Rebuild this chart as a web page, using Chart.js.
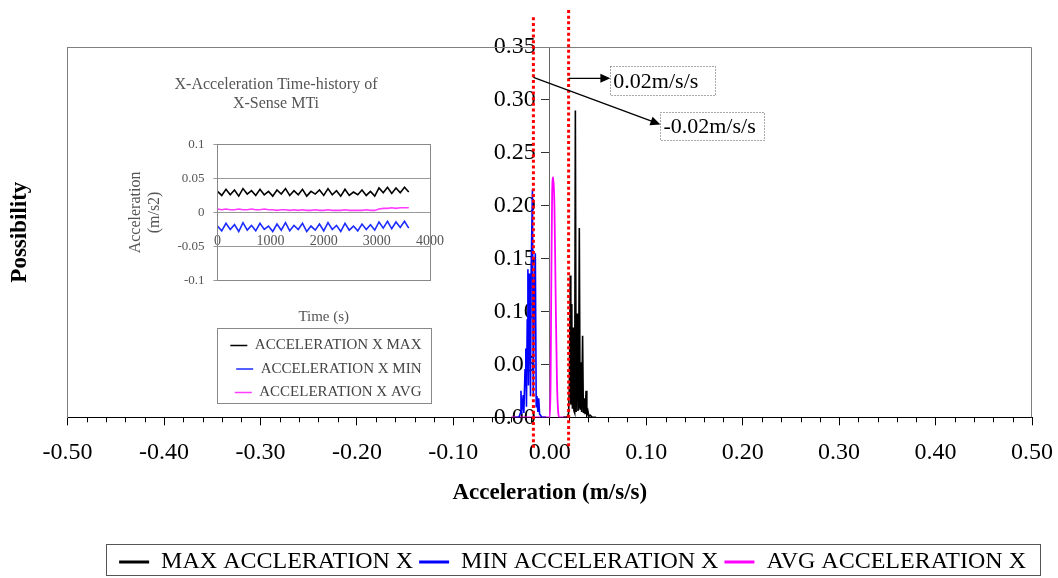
<!DOCTYPE html>
<html lang="en">
<head>
<meta charset="UTF-8">
<title>Acceleration possibility</title>
<script src="https://cdn.jsdelivr.net/npm/chart.js"></script>
<style>
  * { box-sizing: border-box; }
  body { margin:0; background:#fff; overflow:hidden; }
  #wrap { position:relative; width:1058px; height:578px; }
  #main { position:absolute; left:0; top:0; }
  #inset { position:absolute; left:122px; top:62px; filter:blur(0.5px); }
</style>
</head>
<body>
<div id="wrap">
  <canvas id="main" width="1058" height="578"></canvas>
  <canvas id="inset" width="322" height="350"></canvas>
</div>
<script>
const serif = "'Liberation Serif', 'Times New Roman', serif";

// distribution of the three acceleration series (x: m/s/s, y: possibility)
const maxAcc  = [0.014, 0.018, 0.0195, 0.0203, 0.0212, 0.0218, 0.0228, 0.0234, 0.0243, 0.0250, 0.0258, 0.0265, 0.0273, 0.0283, 0.0292, 0.0298, 0.0306, 0.0314, 0.0322, 0.0330, 0.0340, 0.0348, 0.0358, 0.0366, 0.0376, 0.0384, 0.0395, 0.0405, 0.0420, 0.0440, 0.0480];
const maxProb = [0, 0, 0.004, 0.03, 0.134, 0.012, 0.107, 0.008, 0.085, 0.006, 0.004, 0.290, 0.005, 0.098, 0.006, 0.010, 0.179, 0.008, 0.052, 0.005, 0.077, 0.004, 0.018, 0.003, 0.025, 0.002, 0.006, 0.001, 0.002, 0, 0];

const minAcc  = [-0.036, -0.032, -0.0305, -0.0299, -0.0293, -0.0284, -0.0276, -0.0269, -0.0257, -0.0249, -0.0242, -0.0234, -0.0227, -0.0221, -0.0214, -0.0207, -0.0200, -0.0193, -0.0180, -0.0171, -0.0161, -0.0150, -0.0141, -0.0133, -0.0124, -0.0115, -0.0106, -0.0096, -0.0082, -0.0040];
const minProb = [0, 0, 0.004, 0.025, 0.003, 0.012, 0.021, 0.004, 0.045, 0.065, 0.010, 0.092, 0.140, 0.030, 0.136, 0.110, 0.020, 0.140, 0.215, 0.020, 0.120, 0.155, 0.010, 0.020, 0.005, 0.018, 0.003, 0.002, 0, 0];

const avgAcc  = [-0.040, -0.010, 0.0000, 0.0008, 0.0015, 0.0024, 0.0035, 0.0048, 0.0060, 0.0074, 0.0088, 0.0099, 0.0190];
const avgProb = [0, 0, 0, 0.03, 0.12, 0.21, 0.227, 0.20, 0.12, 0.035, 0.004, 0, 0];

// dotted limit lines and their labels
const limitLines = [-0.017, 0.0195];
const notes = [
  { text: '0.02m/s/s',  fromX: 0.0195, fromY: 0.3204, box: [0.0628, 0.3318, 0.1718, 0.3043], toY: 0.3204 },
  { text: '-0.02m/s/s', fromX: -0.017, fromY: 0.3213, box: [0.1147, 0.2882, 0.2226, 0.2616], toY: 0.2768 }
];

// inset: time history (s) of the same sensor
const insetTime = [0, 80, 160, 240, 320, 400, 480, 560, 640, 720, 800, 880, 960, 1040, 1120, 1200, 1280, 1360, 1440, 1520, 1600, 1680, 1760, 1840, 1920, 2000, 2080, 2160, 2240, 2320, 2400, 2480, 2560, 2640, 2720, 2800, 2880, 2960, 3040, 3120, 3200, 3280, 3360, 3440, 3520, 3600];
const insetMax = [0.031, 0.025, 0.034, 0.026, 0.033, 0.024, 0.035, 0.027, 0.032, 0.025, 0.034, 0.026, 0.031, 0.024, 0.033, 0.027, 0.035, 0.025, 0.032, 0.026, 0.034, 0.024, 0.031, 0.027, 0.033, 0.025, 0.035, 0.026, 0.032, 0.024, 0.034, 0.025, 0.030, 0.026, 0.033, 0.025, 0.031, 0.024, 0.036, 0.029, 0.037, 0.028, 0.036, 0.029, 0.037, 0.030];
const insetMin = [-0.020, -0.027, -0.016, -0.025, -0.018, -0.028, -0.015, -0.026, -0.019, -0.027, -0.016, -0.025, -0.020, -0.028, -0.017, -0.026, -0.015, -0.027, -0.019, -0.025, -0.016, -0.028, -0.020, -0.026, -0.017, -0.027, -0.015, -0.025, -0.019, -0.028, -0.016, -0.026, -0.020, -0.027, -0.017, -0.025, -0.018, -0.026, -0.014, -0.023, -0.013, -0.024, -0.014, -0.022, -0.013, -0.023];
const insetAvg = [0.005, 0.004, 0.005, 0.004, 0.004, 0.005, 0.004, 0.004, 0.005, 0.004, 0.004, 0.005, 0.004, 0.004, 0.003, 0.004, 0.004, 0.003, 0.004, 0.003, 0.004, 0.003, 0.003, 0.004, 0.003, 0.003, 0.004, 0.003, 0.003, 0.003, 0.004, 0.003, 0.003, 0.003, 0.003, 0.004, 0.003, 0.003, 0.005, 0.006, 0.006, 0.007, 0.006, 0.007, 0.007, 0.007];

const pts = (xs, ys) => xs.map((x, i) => ({ x, y: ys[i] }));

const mainDecor = {
  id: 'mainDecor',
  afterDraw(chart) {
    const { ctx, chartArea: a, scales: { x, y } } = chart;
    ctx.save();
    // plot frame (top + right)
    ctx.strokeStyle = '#808080'; ctx.lineWidth = 1;
    ctx.beginPath();
    ctx.moveTo(a.left, a.top + 0.5); ctx.lineTo(a.right - 0.5, a.top + 0.5); ctx.lineTo(a.right - 0.5, a.bottom);
    ctx.stroke();
    // minor ticks every 0.02
    ctx.strokeStyle = '#000';
    for (let k = -25; k <= 25; k++) {
      if (k % 5 === 0) continue;
      const px = Math.round(x.getPixelForValue(k * 0.02)) + 0.5;
      ctx.beginPath(); ctx.moveTo(px, a.bottom); ctx.lineTo(px, a.bottom + 5); ctx.stroke();
    }
    // red dotted limit lines
    ctx.strokeStyle = '#ff0000'; ctx.lineWidth = 3; ctx.setLineDash([3, 2.7]);
    limitLines.forEach((v, i) => {
      const px = x.getPixelForValue(v);
      ctx.beginPath();
      ctx.moveTo(px, y.getPixelForValue(i === 0 ? 0.378 : 0.385));
      ctx.lineTo(px, y.getPixelForValue(-0.030));
      ctx.stroke();
    });
    ctx.setLineDash([]);
    // arrows and text boxes
    notes.forEach(n => {
      const x0 = x.getPixelForValue(n.fromX), y0 = y.getPixelForValue(n.fromY);
      const bl = x.getPixelForValue(n.box[0]), bt = y.getPixelForValue(n.box[1]);
      const br = x.getPixelForValue(n.box[2]), bb = y.getPixelForValue(n.box[3]);
      const y1 = y.getPixelForValue(n.toY);
      const ang = Math.atan2(y1 - y0, bl - x0);
      ctx.strokeStyle = '#000'; ctx.fillStyle = '#000'; ctx.lineWidth = 1.3;
      ctx.beginPath(); ctx.moveTo(x0, y0); ctx.lineTo(bl - 8 * Math.cos(ang), y1 - 8 * Math.sin(ang)); ctx.stroke();
      ctx.beginPath();
      ctx.moveTo(bl, y1);
      ctx.lineTo(bl - 10 * Math.cos(ang) + 4.5 * Math.sin(ang), y1 - 10 * Math.sin(ang) - 4.5 * Math.cos(ang));
      ctx.lineTo(bl - 10 * Math.cos(ang) - 4.5 * Math.sin(ang), y1 - 10 * Math.sin(ang) + 4.5 * Math.cos(ang));
      ctx.closePath(); ctx.fill();
      ctx.strokeStyle = '#555'; ctx.lineWidth = 1; ctx.setLineDash([1, 2]);
      ctx.strokeRect(Math.round(bl) + 0.5, Math.round(bt) + 0.5, Math.round(br - bl), Math.round(bb - bt));
      ctx.setLineDash([]);
      ctx.font = '22px ' + serif; ctx.textBaseline = 'middle'; ctx.textAlign = 'left';
      ctx.fillText(n.text, bl + 3, (bt + bb) / 2 + 1);
    });
    // legend border
    const hb = chart.legend.legendHitBoxes;
    if (hb && hb.length) {
      const l = Math.min(...hb.map(b => b.left)), r = Math.max(...hb.map(b => b.left + b.width));
      const t = Math.min(...hb.map(b => b.top));
      ctx.strokeStyle = '#555'; ctx.lineWidth = 1;
      const top = Math.round(t - 6) + 0.5;
      ctx.strokeRect(Math.round(l - 13) + 0.5, top, Math.round(r - l + 27), Math.floor(chart.height - 2 - top));
    }
    ctx.restore();
  }
};

new Chart(document.getElementById('main'), {
  type: 'line',
  data: {
    datasets: [
      { label: 'MAX ACCLERATION X', data: pts(maxAcc, maxProb), borderColor: '#000000', borderWidth: 1.6, pointRadius: 0, tension: 0 },
      { label: 'MIN ACCELERATION X', data: pts(minAcc, minProb), borderColor: '#0000ff', borderWidth: 1.6, pointRadius: 0, tension: 0 },
      { label: 'AVG ACCELERATION X', data: pts(avgAcc, avgProb), borderColor: '#ff00ff', borderWidth: 1.8, pointRadius: 0, cubicInterpolationMode: 'monotone' }
    ]
  },
  options: {
    responsive: false,
    animation: false,
    layout: { padding: { left: 0, right: 26, top: 47, bottom: -6 } },
    scales: {
      x: {
        type: 'linear', min: -0.5, max: 0.5,
        ticks: { stepSize: 0.1, callback: v => v.toFixed(2), padding: 1, color: '#000', font: { family: serif, size: 24, lineHeight: 2.17 }, maxRotation: 0, autoSkip: false },
        grid: { drawOnChartArea: false, tickLength: 8, color: '#000' },
        border: { color: '#000' },
        title: { display: true, text: 'Acceleration (m/s/s)', color: '#000', font: { family: serif, size: 23, weight: 'bold' }, padding: { top: 0, bottom: 37 } }
      },
      y: {
        position: 'left', min: 0, max: 0.35,
        ticks: { display: false },
        grid: { drawOnChartArea: false, drawTicks: false },
        border: { color: '#808080' },
        title: { display: true, text: 'Possibility', color: '#000', font: { family: serif, size: 23, weight: 'bold' }, padding: { top: 6, bottom: 34 } }
      },
      y0: {
        position: { x: 0 }, min: 0, max: 0.35,
        ticks: { stepSize: 0.05, callback: v => v.toFixed(2) + '\u2002\u200A', color: '#000', font: { family: serif, size: 24 } },
        grid: { drawOnChartArea: false, tickLength: 8, color: '#333' },
        border: { color: '#666' }
      }
    },
    plugins: {
      legend: {
        position: 'bottom', align: 'end',
        labels: {
          usePointStyle: true, pointStyle: 'line', pointStyleWidth: 30, padding: 6,
          color: '#000', font: { family: serif, size: 24 },
          generateLabels: ch => Chart.defaults.plugins.legend.labels.generateLabels(ch).map(l => ({ ...l, lineWidth: 3 }))
        }
      },
      tooltip: { enabled: false }
    }
  },
  plugins: [mainDecor]
});

const insetDecor = {
  id: 'insetDecor',
  afterDraw(chart) {
    const { ctx, chartArea: a } = chart;
    ctx.save();
    ctx.strokeStyle = '#888'; ctx.lineWidth = 1;
    ctx.strokeRect(Math.round(a.left) + 0.5, Math.round(a.top) + 0.5, Math.round(a.right - a.left), Math.round(a.bottom - a.top));
    const hb = chart.legend.legendHitBoxes;
    if (hb && hb.length) {
      const r = Math.max(...hb.map(b => b.left + b.width));
      const t = Math.min(...hb.map(b => b.top)), btm = Math.max(...hb.map(b => b.top + b.height));
      ctx.strokeRect(Math.round(a.left) + 0.5, Math.round(t - 10) + 0.5, Math.round(r + 10 - a.left), Math.round(btm - t + 13));
    }
    ctx.restore();
  }
};

const insetFont = size => ({ family: serif, size });

new Chart(document.getElementById('inset'), {
  type: 'line',
  data: {
    datasets: [
      { label: 'ACCELERATION X MAX', data: pts(insetTime, insetMax), borderColor: '#000000', borderWidth: 1.6, pointRadius: 0, tension: 0 },
      { label: 'ACCELERATION X MIN', data: pts(insetTime, insetMin), borderColor: '#1c2cff', borderWidth: 1.6, pointRadius: 0, tension: 0 },
      { label: 'ACCELERATION X AVG', data: pts(insetTime, insetAvg), borderColor: '#ff3cff', borderWidth: 1.6, pointRadius: 0, tension: 0 }
    ]
  },
  options: {
    responsive: false,
    animation: false,
    layout: { padding: { left: 0, right: 14, top: 6, bottom: 2 } },
    scales: {
      x: {
        type: 'linear', min: 0, max: 4000,
        ticks: { display: false },
        grid: { display: false },
        border: { display: false },
        title: { display: true, text: 'Time (s)', color: '#555', font: insetFont(15), padding: { top: 20, bottom: 3 } }
      },
      x0: {
        type: 'linear', position: { y: 0 }, min: 0, max: 4000,
        ticks: { stepSize: 1000, callback: v => String(v), color: '#555', font: { family: serif, size: 14, lineHeight: 3 }, padding: 0, maxRotation: 0 },
        grid: { display: false },
        border: { display: false }
      },
      y: {
        min: -0.1, max: 0.1,
        ticks: { stepSize: 0.05, callback: v => String(+v.toFixed(2)), color: '#555', font: insetFont(13), padding: 9 },
        grid: { color: '#999', tickLength: 4 },
        border: { color: '#888' },
        title: { display: true, text: ['Acceleration', '(m/s2)'], color: '#555', font: insetFont(16) }
      }
    },
    plugins: {
      title: {
        display: true, text: ['X-Acceleration Time-history of', 'X-Sense MTi'],
        color: '#555', font: { family: serif, size: 16, weight: 'normal' }, padding: { top: 7, bottom: 31 }
      },
      legend: {
        position: 'bottom', align: 'end',
        labels: { usePointStyle: true, pointStyle: 'line', pointStyleWidth: 17, padding: 8.5, color: '#444', font: insetFont(15) }
      },
      tooltip: { enabled: false }
    }
  },
  plugins: [insetDecor]
});
</script>
</body>
</html>
